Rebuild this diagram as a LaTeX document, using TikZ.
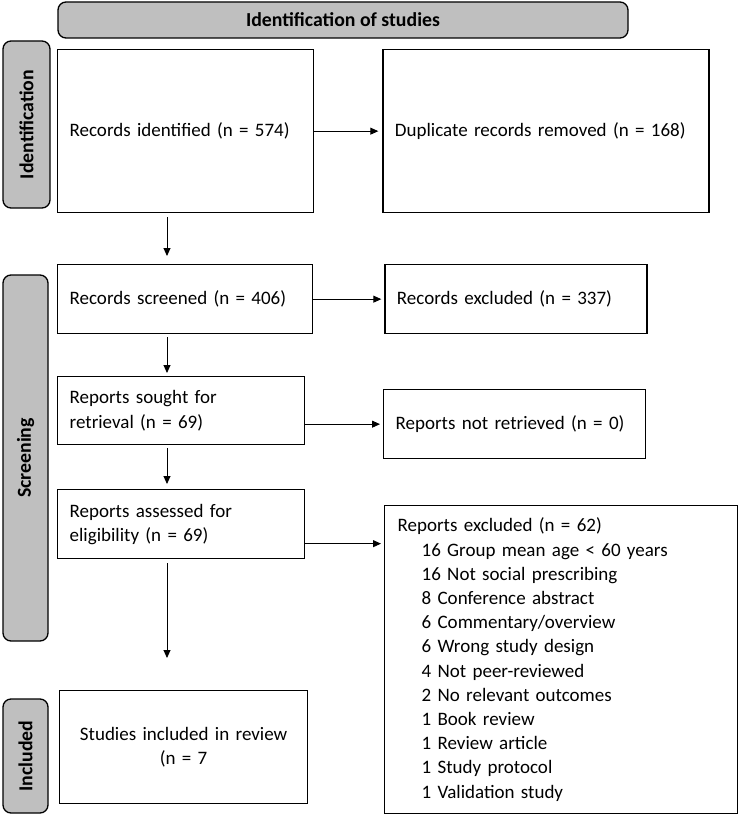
\documentclass[tikz,border=0pt]{standalone}
\usepackage{fontspec}
\setmainfont{Carlito}
\usepackage{tikz}
\usetikzlibrary{arrows.meta, positioning}
\definecolor{bargray}{RGB}{191,191,191}

\begin{document}
\begin{tikzpicture}[
  x=1pt, y=-1pt,
  every node/.style={font=\fontsize{19pt}{24.2pt}\selectfont},
  box/.style={rectangle, draw, line width=1.3pt, inner xsep=12pt, inner ysep=0pt,
              align=left, anchor=north west},
  bar/.style={rectangle, rounded corners=8pt, draw, line width=1.3pt, fill=bargray,
              inner sep=0pt, font=\fontsize{19.8pt}{24.2pt}\selectfont\bfseries},
  arrow/.style={-{Triangle[length=8pt, width=7pt]}, line width=0.9pt}
]
\useasboundingbox (0,0) rectangle (739,816);

% phase bars
\node[bar, minimum width=570pt, minimum height=36pt] (head) at (343,20) {Identification of studies};
\node[bar, rotate=90, minimum width=167pt, minimum height=47pt] (idbar) at (26.5,124.5) {Identification};
\node[bar, rotate=90, minimum width=366pt, minimum height=45pt] (scrbar) at (25.5,458) {Screening};
\node[bar, rotate=90, minimum width=114pt, minimum height=45pt] (incbar) at (25.5,756) {Included};

% main column
\node[box, text width=232pt, minimum height=163pt] (ident) at (57,49) {Records identified (n = 574)};
\node[box, text width=231pt, minimum height=69pt] (screened) at (57,264) {Records screened (n = 406)};
\node[box, text width=223pt, minimum height=68pt] (sought) at (57,376) {Reports sought for\\retrieval (n = 69)};
\node[box, text width=223pt, minimum height=69pt] (assessed) at (57,489) {Reports assessed for\\eligibility (n = 69)};
\node[box, text width=224pt, minimum height=113pt, align=center] (incl) at (59,690) {Studies included in review\\(n = 7};

% side column
\node[box, text width=302pt, minimum height=163pt, right=68pt of ident] (dup) {Duplicate records removed (n = 168)};
\node[box, text width=238pt, minimum height=69pt, right=71pt of screened] (excl) {Records excluded (n = 337)};
\node[box, text width=238pt, minimum height=69pt] (nretr) at (383,389) {Reports not retrieved (n = 0)};
\node[box, text width=327pt, minimum height=308pt, inner xsep=13pt] (repexcl) at (384,505) {%
  Reports excluded (n = 62)\\
  \hspace*{24pt}16 Group mean age < 60 years\\
  \hspace*{24pt}16 Not social prescribing\\
  \hspace*{24pt}8 Conference abstract\\
  \hspace*{24pt}6 Commentary/overview\\
  \hspace*{24pt}6 Wrong study design\\
  \hspace*{24pt}4 Not peer-reviewed\\
  \hspace*{24pt}2 No relevant outcomes\\
  \hspace*{24pt}1 Book review\\
  \hspace*{24pt}1 Review article\\
  \hspace*{24pt}1 Study protocol\\
  \hspace*{24pt}1 Validation study};

\coordinate (col) at (167,0);
\coordinate (aout) at ([yshift=-19.5pt]assessed.east);

\draw[arrow, shorten <=4pt, shorten >=8pt] (ident.south -| col) -- (screened.north -| col);
\draw[arrow, shorten <=3pt, shorten >=3pt] (screened.south -| col) -- (sought.north -| col);
\draw[arrow, shorten <=3pt, shorten >=5pt] (sought.south -| col) -- (assessed.north -| col);
\draw[arrow, shorten <=4pt, shorten >=32pt] (assessed.south -| col) -- (incl.north -| col);

\draw[arrow, shorten >=4pt] (ident) -- (dup);
\draw[arrow, shorten >=3pt] (screened) -- (excl);
\draw[arrow, shorten >=3pt] (sought.east |- nretr.west) -- (nretr.west);
\draw[arrow, shorten >=3pt] (aout) -- (aout -| repexcl.west);
\end{tikzpicture}
\end{document}
